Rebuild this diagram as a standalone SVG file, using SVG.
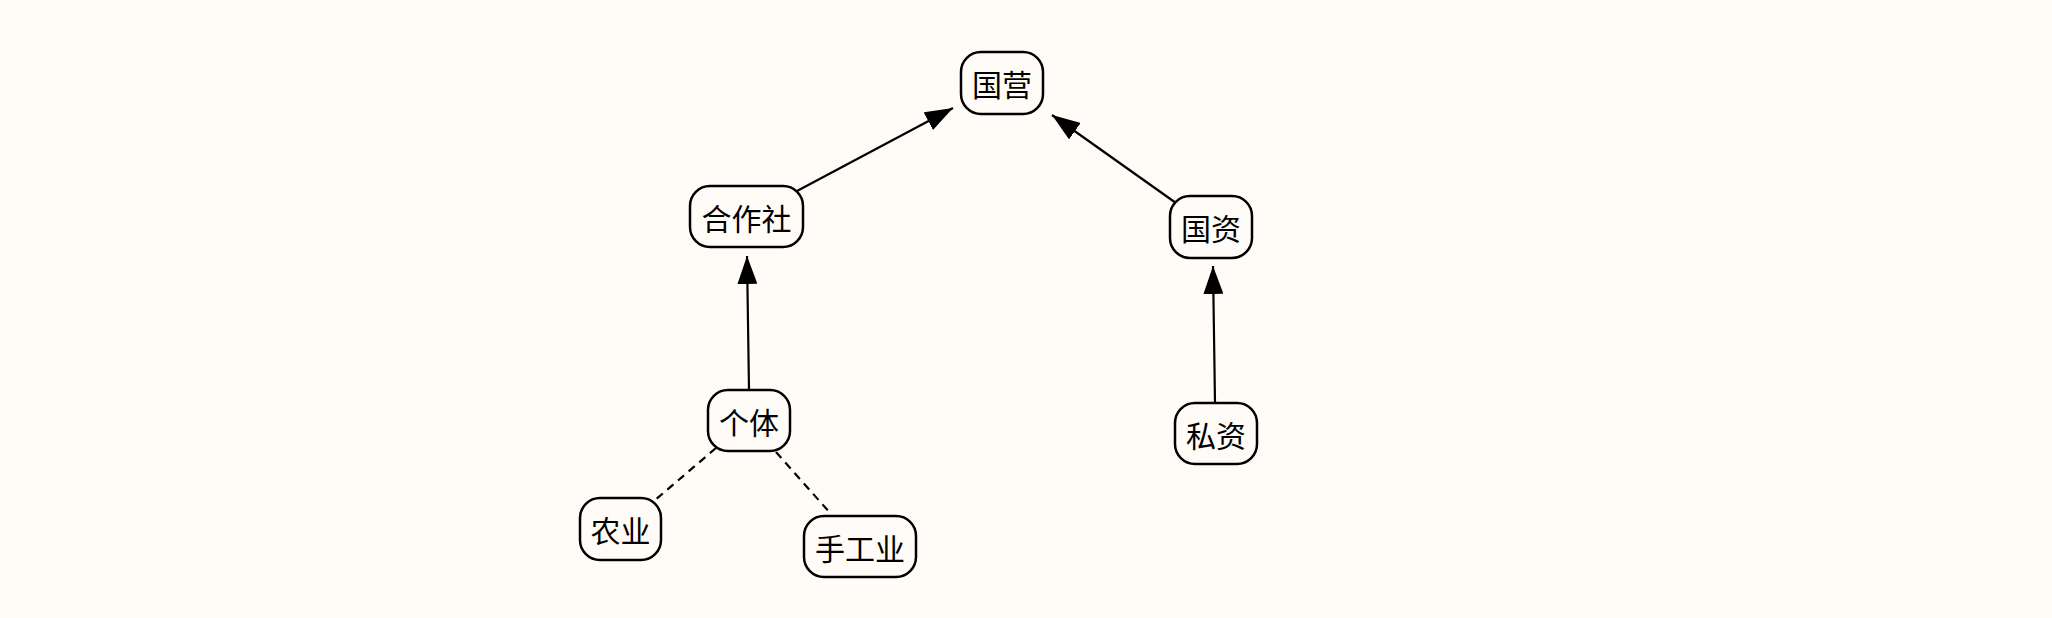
<svg xmlns="http://www.w3.org/2000/svg" width="2052" height="618" viewBox="0 0 2052 618">
<style>
.n rect{fill:#fffcf7;stroke:#000;stroke-width:2.5}
.n text{font-family:"Noto Sans CJK SC","Noto Sans",sans-serif;font-size:30px;fill:#000;text-anchor:middle;dominant-baseline:central}
.e{stroke:#000;stroke-width:2.2;fill:none}
.d{stroke-dasharray:8 6}
</style>
<defs>
<marker id="ah" viewBox="0 0 28 20" refX="28" refY="10" markerWidth="28" markerHeight="20" markerUnits="userSpaceOnUse" orient="auto">
<path d="M0,0 L28,10 L0,20 Z" fill="#000"/>
</marker>
</defs>
<rect width="2052" height="618" fill="#fffcf7"/>
<g id="connectors">
<line class="e" x1="797" y1="191" x2="953" y2="108" marker-end="url(#ah)"/>
<line class="e" x1="1176" y1="203" x2="1052" y2="115" marker-end="url(#ah)"/>
<line class="e" x1="749" y1="390" x2="747" y2="256" marker-end="url(#ah)"/>
<line class="e" x1="1215" y1="403" x2="1213" y2="266" marker-end="url(#ah)"/>
<line class="e d" x1="716" y1="448" x2="654" y2="501"/>
<line class="e d" x1="776" y1="452" x2="831" y2="514"/>
</g>
<g id="n-guoying" class="n"><rect x="961" y="52" width="82" height="62" rx="20"/><text x="1002" y="83">国营</text></g>
<g id="n-hezuoshe" class="n"><rect x="690" y="186" width="113" height="61" rx="20"/><text x="746.5" y="216.5">合作社</text></g>
<g id="n-guozi" class="n"><rect x="1170" y="196" width="82" height="62" rx="20"/><text x="1211" y="227">国资</text></g>
<g id="n-geti" class="n"><rect x="708" y="390" width="82" height="61" rx="20"/><text x="749" y="420.5">个体</text></g>
<g id="n-sizi" class="n"><rect x="1175" y="403" width="82" height="61" rx="20"/><text x="1216" y="433.5">私资</text></g>
<g id="n-nongye" class="n"><rect x="580" y="498" width="81" height="62" rx="20"/><text x="620.5" y="529">农业</text></g>
<g id="n-shougongye" class="n"><rect x="804" y="516" width="112" height="61" rx="20"/><text x="860" y="546.5">手工业</text></g>
</svg>
